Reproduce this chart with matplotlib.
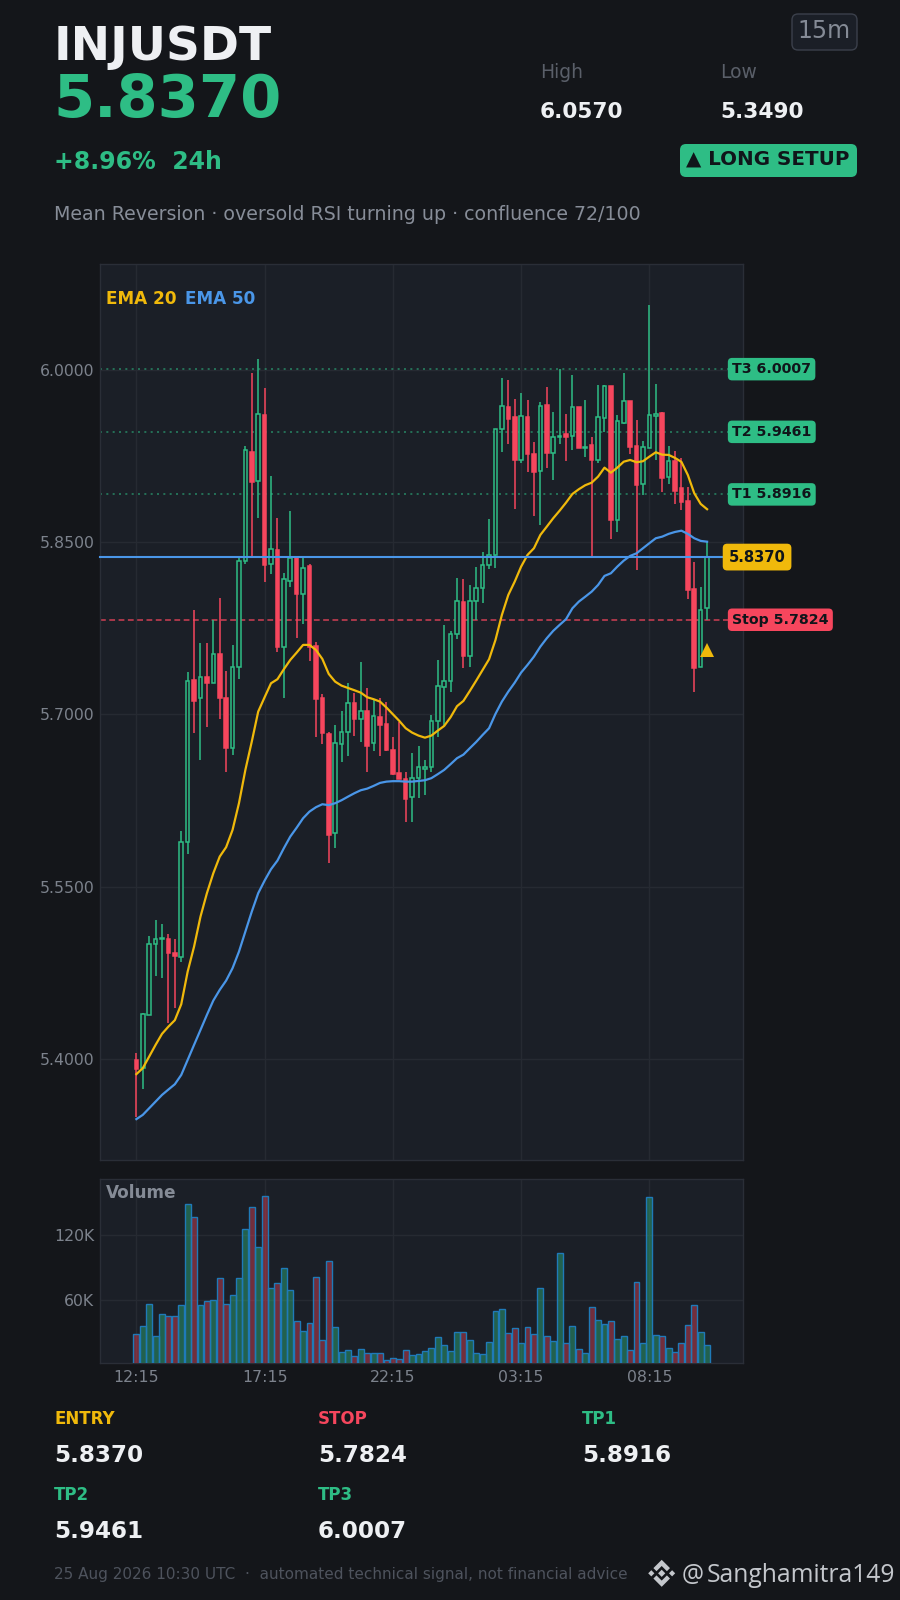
import matplotlib
matplotlib.use("Agg")
import matplotlib.pyplot as plt
from matplotlib.patches import FancyBboxPatch, Polygon

# ==============================================================================
# 1. DATA
# ==============================================================================
symbol = "INJUSDT"
last_price = 5.8370
high_24h = 6.0570
low_24h = 5.3490
change_24h = "+8.96%  24h"
timeframe = "15m"
subtitle = "Mean Reversion · oversold RSI turning up · confluence 72/100"
footer = "25 Aug 2026 10:30 UTC  ·  automated technical signal, not financial advice"
handle_name = "Sanghamitra149"

entry = 5.8370
stop = 5.7824
tp1 = 5.8916
tp2 = 5.9461
tp3 = 6.0007
signal_price = 5.7559

time_ticks = [0, 20, 40, 60, 80]
time_labels = ["12:15", "17:15", "22:15", "03:15", "08:15"]
price_ticks = [5.40, 5.55, 5.70, 5.85, 6.00]
volume_ticks = [60000, 120000]
volume_labels = ["60K", "120K"]

open_ = [
    5.3990, 5.3920, 5.4379, 5.4998, 5.5041, 5.5041, 5.4922, 5.4885, 5.5891, 5.7300,
    5.7141, 5.7323, 5.7276, 5.7524, 5.7141, 5.6705, 5.7411, 5.8339, 5.9283, 5.9036,
    5.9608, 5.8313, 5.8432, 5.7590, 5.8165, 5.8360, 5.8052, 5.8293, 5.7596, 5.7143,
    5.6830, 5.5965, 5.6740, 5.6844, 5.7100, 5.6963, 5.7027, 5.6749, 5.6978, 5.6914,
    5.6687, 5.6490, 5.6435, 5.6278, 5.6442, 5.6527, 5.6540, 5.6940, 5.7236, 5.7289,
    5.7698, 5.7979, 5.7505, 5.7985, 5.8099, 5.8299, 5.8386, 5.9483, 5.9678, 5.9591,
    5.9216, 5.9591, 5.9268, 5.9120, 5.9692, 5.9274, 5.9414, 5.9443, 5.9423, 5.9678,
    5.9318, 5.9347, 5.9219, 5.9579, 5.9858, 5.8691, 5.9541, 5.9727, 5.9335, 5.9005,
    5.9318, 5.9597, 5.9623, 5.9071, 5.9207, 5.8970, 5.8856, 5.8088, 5.7416, 5.7924,
]
close = [
    5.3914, 5.4388, 5.4998, 5.5041, 5.5050, 5.4925, 5.4899, 5.5891, 5.7294, 5.7120,
    5.7323, 5.7276, 5.7524, 5.7146, 5.6705, 5.7416, 5.8339, 5.9301, 5.9027, 5.9614,
    5.8304, 5.8438, 5.7590, 5.8177, 5.8360, 5.8052, 5.8273, 5.7590, 5.7134, 5.6841,
    5.5950, 5.6749, 5.6844, 5.7097, 5.6963, 5.7027, 5.6728, 5.6984, 5.6911, 5.6690,
    5.6484, 5.6440, 5.6266, 5.6442, 5.6540, 5.6540, 5.6940, 5.7245, 5.7289, 5.7698,
    5.7985, 5.7509, 5.7985, 5.8099, 5.8299, 5.8386, 5.9483, 5.9684, 5.9576, 5.9216,
    5.9597, 5.9271, 5.9114, 5.9684, 5.9280, 5.9419, 5.9425, 5.9419, 5.9675, 5.9323,
    5.9332, 5.9219, 5.9588, 5.9858, 5.8696, 5.9553, 5.9727, 5.9332, 5.9001, 5.9327,
    5.9605, 5.9614, 5.9062, 5.9205, 5.8949, 5.8853, 5.8086, 5.7407, 5.7912, 5.8370,
]
high = [
    5.4051, 5.4395, 5.5073, 5.5212, 5.5177, 5.5090, 5.5041, 5.5985, 5.7372, 5.7910,
    5.7620, 5.7620, 5.7822, 5.8017, 5.7381, 5.7605, 5.8363, 5.9341, 5.9976, 6.0093,
    5.9846, 5.9079, 5.8714, 5.8234, 5.8774, 5.8383, 5.8360, 5.8308, 5.7628, 5.7175,
    5.6850, 5.6911, 5.7033, 5.7276, 5.7184, 5.7459, 5.7233, 5.7126, 5.7141, 5.7111,
    5.6806, 5.6937, 5.6501, 5.6667, 5.6725, 5.6606, 5.6998, 5.7477, 5.7779, 5.7729,
    5.8191, 5.8182, 5.8130, 5.8287, 5.8417, 5.8705, 5.9483, 5.9933, 5.9916, 5.9750,
    5.9802, 5.9741, 5.9370, 5.9724, 5.9855, 5.9637, 6.0009, 5.9619, 5.9959, 5.9678,
    5.9741, 5.9419, 5.9872, 5.9872, 5.9858, 5.9611, 5.9976, 5.9727, 5.9567, 5.9384,
    6.0570, 5.9881, 5.9637, 5.9341, 5.9297, 5.9236, 5.8978, 5.8330, 5.8113, 5.8502,
]
low = [
    5.3490, 5.3738, 5.4379, 5.4719, 5.4702, 5.4310, 5.4440, 5.4846, 5.5782, 5.6836,
    5.6603, 5.6893, 5.7276, 5.6958, 5.6496, 5.6644, 5.7309, 5.8308, 5.8383, 5.8708,
    5.8151, 5.8221, 5.7541, 5.7141, 5.8107, 5.7663, 5.7785, 5.7465, 5.6806, 5.6740,
    5.5703, 5.5834, 5.6583, 5.6635, 5.6810, 5.6757, 5.6496, 5.6679, 5.6635, 5.6679,
    5.6475, 5.6440, 5.6060, 5.6060, 5.6270, 5.6301, 5.6496, 5.6806, 5.6899, 5.7198,
    5.7654, 5.7407, 5.7416, 5.7822, 5.7968, 5.8264, 5.8273, 5.9283, 5.9355, 5.8792,
    5.9193, 5.9109, 5.8726, 5.8647, 5.9149, 5.9042, 5.9353, 5.9205, 5.9301, 5.9323,
    5.9240, 5.8374, 5.9193, 5.9463, 5.8525, 5.8586, 5.9527, 5.9266, 5.8255, 5.8914,
    5.9318, 5.9213, 5.8935, 5.9007, 5.8830, 5.8778, 5.8003, 5.7198, 5.7416, 5.7822,
]
ema20 = [
    5.3866, 5.3918, 5.4019, 5.4121, 5.4217, 5.4280, 5.4336, 5.4475, 5.4759, 5.4977,
    5.5238, 5.5442, 5.5616, 5.5761, 5.5843, 5.5993, 5.6226, 5.6516, 5.6763, 5.7024,
    5.7149, 5.7271, 5.7306, 5.7393, 5.7474, 5.7538, 5.7605, 5.7605, 5.7561, 5.7483,
    5.7352, 5.7285, 5.7250, 5.7230, 5.7210, 5.7189, 5.7149, 5.7132, 5.7111, 5.7059,
    5.7001, 5.6943, 5.6879, 5.6841, 5.6815, 5.6797, 5.6815, 5.6858, 5.6899, 5.6975,
    5.7071, 5.7117, 5.7204, 5.7294, 5.7387, 5.7480, 5.7648, 5.7866, 5.8040, 5.8156,
    5.8287, 5.8389, 5.8447, 5.8563, 5.8635, 5.8708, 5.8774, 5.8844, 5.8920, 5.8961,
    5.8996, 5.9018, 5.9071, 5.9149, 5.9105, 5.9149, 5.9201, 5.9216, 5.9196, 5.9205,
    5.9245, 5.9283, 5.9262, 5.9260, 5.9234, 5.9199, 5.9085, 5.8926, 5.8833, 5.8787,
]
ema50 = [
    5.3474, 5.3511, 5.3569, 5.3627, 5.3685, 5.3732, 5.3778, 5.3859, 5.3990, 5.4121,
    5.4251, 5.4382, 5.4507, 5.4600, 5.4681, 5.4789, 5.4933, 5.5108, 5.5282, 5.5442,
    5.5552, 5.5651, 5.5726, 5.5834, 5.5935, 5.6013, 5.6095, 5.6153, 5.6191, 5.6217,
    5.6209, 5.6226, 5.6252, 5.6283, 5.6313, 5.6339, 5.6353, 5.6377, 5.6403, 5.6414,
    5.6418, 5.6418, 5.6414, 5.6414, 5.6420, 5.6426, 5.6444, 5.6479, 5.6516, 5.6566,
    5.6618, 5.6649, 5.6705, 5.6760, 5.6821, 5.6879, 5.7004, 5.7111, 5.7198, 5.7276,
    5.7364, 5.7431, 5.7503, 5.7590, 5.7663, 5.7727, 5.7779, 5.7829, 5.7924, 5.7982,
    5.8025, 5.8069, 5.8127, 5.8206, 5.8229, 5.8287, 5.8339, 5.8380, 5.8403, 5.8447,
    5.8491, 5.8534, 5.8548, 5.8572, 5.8589, 5.8600, 5.8572, 5.8534, 5.8511, 5.8504,
]
volume = [
    28600, 36000, 56300, 26800, 47100, 45200, 45200, 55400, 148600, 136600,
    55400, 59100, 60000, 80300, 56300, 64600, 80300, 125500, 145800, 108900,
    156000, 71100, 75700, 89500, 69200, 40600, 31400, 38800, 81200, 23100,
    96000, 35100, 12000, 13800, 8300, 14800, 11100, 11100, 11100, 4600,
    6500, 5500, 13800, 9200, 10200, 12900, 15700, 25800, 18500, 12900,
    30500, 30500, 23100, 11100, 10200, 21200, 49800, 51700, 29500, 34200,
    20300, 35100, 28600, 71100, 26800, 22200, 103400, 20300, 36000, 14800,
    11100, 53500, 41500, 37800, 40600, 24000, 26800, 13800, 76600, 20300,
    155100, 27700, 26800, 15700, 12000, 20300, 36900, 55400, 30500, 18500,
]

# ==============================================================================
# 2. STYLE
# ==============================================================================
BG = "#14161a"
PANEL = "#1b1f27"
GRID = "#262a32"
GREEN = "#2ebd85"
RED = "#f6465d"
YELLOW = "#f0b90b"
BLUE = "#4a96e8"
WHITE = "#eef0f3"
MUTED = "#7c828c"
LABEL_DARK = "#10151a"

W, H = 900, 1600
plt.rcParams["font.family"] = "DejaVu Sans"

fig = plt.figure(figsize=(W / 100, H / 100), dpi=100, facecolor=BG)


def axes_px(left, top, right, bottom):
    """Tạo axes theo toạ độ pixel"""
    return fig.add_axes([left / W, 1 - bottom / H, (right - left) / W, (bottom - top) / H])


def style_panel(ax):
    ax.set_facecolor(PANEL)
    ax.grid(True, color=GRID, linewidth=1)
    ax.set_axisbelow(True)
    ax.tick_params(length=0, labelsize=11.3, colors=MUTED, pad=4)
    for spine in ax.spines.values():
        spine.set_color("#2a2e37")
        spine.set_linewidth(1)


def draw_price(ax):
    xs = range(len(close))
    for i in xs:
        up = close[i] >= open_[i]
        col = GREEN if up else RED
        ax.vlines(i, low[i], high[i], color=col, linewidth=1.1, zorder=3)
        ax.bar(i, abs(close[i] - open_[i]), bottom=min(open_[i], close[i]), width=0.56,
               facecolor=PANEL if up else RED, edgecolor=col, linewidth=1.1, zorder=3.5)

    ax.plot(xs, ema20, color=YELLOW, linewidth=1.6, zorder=4)
    ax.plot(xs, ema50, color=BLUE, linewidth=1.6, zorder=4)

    for level in [tp1, tp2, tp3]:
        ax.axhline(level, color=GREEN, linewidth=1.2, linestyle=(0, (1.2, 2.6)), alpha=0.6, zorder=2)
    ax.axhline(stop, color=RED, linewidth=1.3, linestyle=(0, (3.2, 1.95)), alpha=0.7, zorder=2)
    ax.plot([-5.67, 92], [entry, entry], color=BLUE, linewidth=1.5, zorder=5, clip_on=False)

    ax.plot([len(close) - 1], [signal_price], marker="^", markersize=9.6,
            color=YELLOW, markeredgewidth=0, zorder=6)

    ax.set_xlim(-5.67, 94.6)
    ax.set_ylim(5.3118, 6.0923)
    ax.set_xticks(time_ticks)
    ax.set_xticklabels([])
    ax.set_yticks(price_ticks)
    ax.set_yticklabels([f"{p:.4f}" for p in price_ticks])

    # Nhãn các mức giá bên phải
    labels = [(tp3, f"T3 {tp3:.4f}", GREEN), (tp2, f"T2 {tp2:.4f}", GREEN),
              (tp1, f"T1 {tp1:.4f}", GREEN), (stop, f"Stop {stop:.4f}", RED)]
    for level, txt, col in labels:
        ax.text(92.9, level, txt, color=LABEL_DARK, fontsize=10.2, fontweight="bold",
                va="center", ha="left", zorder=7, clip_on=False,
                bbox=dict(boxstyle="round,pad=0.3,rounding_size=0.3", facecolor=col, edgecolor="none"))
    ax.text(92.36, entry, f"{entry:.4f}", color=LABEL_DARK, fontsize=10.6, fontweight="bold",
            va="center", ha="left", zorder=7, clip_on=False,
            bbox=dict(boxstyle="round,pad=0.4,rounding_size=0.3", facecolor=YELLOW, edgecolor="none"))


def draw_volume(ax):
    colors = [(0.18, 0.74, 0.52, 0.42) if close[i] >= open_[i] else (0.96, 0.27, 0.36, 0.40)
              for i in range(len(close))]
    ax.bar(range(len(volume)), volume, width=0.92, color=colors, edgecolor="#1f7ab8", linewidth=1, zorder=3)
    ax.set_xlim(-5.67, 94.6)
    ax.set_ylim(1850, 171700)
    ax.set_xticks(time_ticks)
    ax.set_xticklabels(time_labels)
    ax.set_yticks(volume_ticks)
    ax.set_yticklabels(volume_labels)
    ax.tick_params(axis="x", pad=5)


def draw_binance_logo(ov, cx, cy, r):
    """Logo kim cương, vẽ trên lớp phủ pixel"""
    col = "#c4c7cc"
    s = r / 13.5
    shapes = [
        [(0, -3.6), (3.6, 0), (0, 3.6), (-3.6, 0)],
        [(-13.5, 0), (-10.4, -3.1), (-7.3, 0), (-10.4, 3.1)],
        [(13.5, 0), (10.4, -3.1), (7.3, 0), (10.4, 3.1)],
        [(0, -13.5), (8.3, -5.2), (5.2, -2.1), (0, -7.3), (-5.2, -2.1), (-8.3, -5.2)],
        [(0, 13.5), (8.3, 5.2), (5.2, 2.1), (0, 7.3), (-5.2, 2.1), (-8.3, 5.2)],
    ]
    for pts in shapes:
        ov.add_patch(Polygon([(cx + x * s, cy + y * s) for x, y in pts], closed=True,
                             facecolor=col, edgecolor="none"))


def draw_overlay(ov):
    def txt(x, y, s, color=WHITE, size=12, weight="normal", **kw):
        ov.text(x, y, s, color=color, fontsize=size, fontweight=weight, va="baseline", ha="left", **kw)

    # Phần đầu
    txt(54, 59.5, symbol, WHITE, 33.8, "bold")
    txt(53.5, 117.5, f"{last_price:.4f}", GREEN, 42.7, "bold")
    txt(54, 169, change_24h, GREEN, 17, "bold")
    txt(54, 219.5, subtitle, "#878d98", 13.7)

    ov.add_patch(FancyBboxPatch((792, 14), 65, 36, boxstyle="round,pad=0,rounding_size=6",
                                facecolor="#1b1f27", edgecolor="#3b404b", linewidth=1))
    ov.text(824.5, 31.5, timeframe, color="#858b96", fontsize=17, ha="center", va="center")

    txt(540, 78, "High", "#5a5f69", 13.5)
    txt(720, 78, "Low", "#5a5f69", 13.5)
    txt(540, 118.5, f"{high_24h:.4f}", WHITE, 15.6, "bold")
    txt(720, 118.5, f"{low_24h:.4f}", WHITE, 15.6, "bold")

    ov.add_patch(FancyBboxPatch((680, 144), 177, 33, boxstyle="round,pad=0,rounding_size=6",
                                facecolor=GREEN, edgecolor="none"))
    ov.text(768, 159, "▲ LONG SETUP", color=LABEL_DARK, fontsize=14.3, fontweight="bold",
            ha="center", va="center")

    # Chú thích EMA và Volume
    txt(106, 303.5, "EMA 20", YELLOW, 12.2, "bold")
    txt(185, 303.5, "EMA 50", BLUE, 12.2, "bold")
    txt(106, 1197.5, "Volume", "#858b96", 12.2, "bold")

    # Bảng giá phía dưới
    rows = [
        (54, 1424.5, 1461.5, "ENTRY", entry, YELLOW),
        (318, 1424.5, 1461.5, "STOP", stop, RED),
        (582, 1424.5, 1461.5, "TP1", tp1, GREEN),
        (54, 1500.5, 1538.5, "TP2", tp2, GREEN),
        (318, 1500.5, 1538.5, "TP3", tp3, GREEN),
    ]
    for x, y_label, y_value, name, value, col in rows:
        txt(x, y_label, name, col, 12, "bold")
        txt(x, y_value, f"{value:.4f}", WHITE, 16.6, "bold")

    txt(54, 1579, footer, "#4e535d", 10.95)
    draw_binance_logo(ov, 661.7, 1573.3, 13.5)
    txt(682, 1581.5, "@", "#c4c7cc", 17.7, family="Open Sans")
    txt(706.5, 1581.5, handle_name, "#c4c7cc", 17.7, family="Open Sans")


def main():
    ax_price = axes_px(100, 264, 743, 1160)
    ax_vol = axes_px(100, 1179, 743, 1363)
    style_panel(ax_price)
    style_panel(ax_vol)
    draw_price(ax_price)
    draw_volume(ax_vol)

    ov = fig.add_axes([0, 0, 1, 1], facecolor="none")
    ov.set_xlim(0, W)
    ov.set_ylim(H, 0)
    ov.axis("off")
    draw_overlay(ov)

    fig.savefig("out.png", dpi=100, facecolor=BG)
    plt.close(fig)


if __name__ == "__main__":
    main()
